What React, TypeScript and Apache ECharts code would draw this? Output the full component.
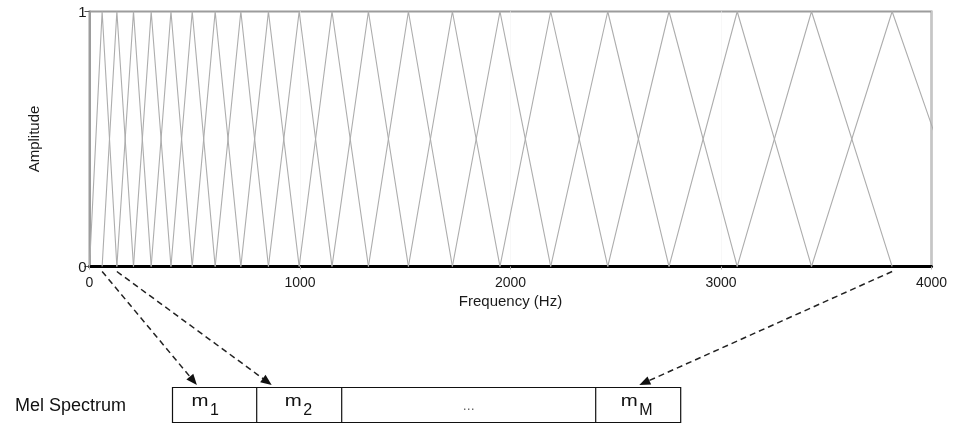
import React, { useEffect, useRef } from "react";
import * as echarts from "echarts";

// Filter band edges / centre frequencies (Hz)
const filterEdgesHz = [0, 60, 130, 209, 293, 387, 488, 597, 719, 850, 996, 1152, 1325, 1515, 1724, 1950, 2191, 2462, 2753, 3077, 3430, 3813, 4234];
const peakAmplitude = 1;
const xRange = [0, 4000];
const xStep = 1000;
const yRange = [0, 1];
const yStep = 1;
const cellMain = ["m", "m", "...", "m"];
const cellSub = ["1", "2", "", "M"];
// filter whose centre feeds the given cell (cell index -> filter index)
const arrowCells = [0, 1, 3];
const arrowFilters = [1, 2, 21];

const FONT = "Liberation Sans, Arial, Helvetica, sans-serif";

export default function App() {
  const ref = useRef<HTMLDivElement>(null);
  useEffect(() => {
    const chart = echarts.init(ref.current!, undefined, { renderer: "svg" });
    const series: any[] = [];
    for (let k = 1; k < filterEdgesHz.length - 1; k++) {
      series.push({
        type: "line",
        data: [
          [filterEdgesHz[k - 1], 0],
          [filterEdgesHz[k], peakAmplitude],
          [filterEdgesHz[k + 1], 0],
        ],
        symbol: "none",
        clip: true,
        silent: true,
        lineStyle: { color: "#adadad", width: 1.1 },
        z: 1,
      });
    }
    chart.setOption({
      animation: false,
      textStyle: { fontFamily: FONT },
      grid: {
        left: 89.5,
        right: 31.5,
        top: 11.5,
        bottom: 157.5,
        show: true,
        borderColor: "#9c9c9c",
        borderWidth: 2,
        backgroundColor: "transparent",
      },
      xAxis: {
        type: "value",
        min: xRange[0],
        max: xRange[1],
        interval: xStep,
        axisLine: { show: true, onZero: false, lineStyle: { color: "#000", width: 3 } },
        axisTick: { show: true, length: 3, lineStyle: { color: "#aaa" } },
        axisLabel: { fontSize: 14, color: "#1a1a1a", margin: 8, fontFamily: FONT, formatter: (v: number) => String(v) },
        splitLine: { show: true, lineStyle: { color: "#f0f0f0", width: 1, type: "dotted" } },
        name: "Frequency (Hz)",
        nameLocation: "middle",
        nameGap: 25,
        nameTextStyle: { fontSize: 15, color: "#1a1a1a", fontFamily: FONT },
      },
      yAxis: {
        type: "value",
        min: yRange[0],
        max: yRange[1],
        interval: yStep,
        axisLine: { show: true, lineStyle: { color: "#9c9c9c", width: 2 } },
        axisTick: { show: true, length: 5, lineStyle: { color: "#555" } },
        axisLabel: { fontSize: 15, color: "#1a1a1a", margin: 3, fontFamily: FONT },
        splitLine: { show: false },
        name: "Amplitude",
        nameLocation: "middle",
        nameGap: 49,
        nameRotate: 90,
        nameTextStyle: { fontSize: 15, color: "#1a1a1a", fontFamily: FONT },
      },
      series,
    });

    // Mel spectrum boxes
    const cellEdges = [172.5, 256.7, 341.7, 595.7, 680.7];
    const boxTop = 387.5;
    const boxH = 35;
    const g: any[] = [];
    g.push({
      type: "text",
      x: 15,
      y: 405,
      style: { text: "Mel Spectrum", fontSize: 18, fill: "#111", fontFamily: FONT, align: "left", verticalAlign: "middle" },
    });
    g.push({
      type: "rect",
      shape: { x: cellEdges[0], y: boxTop, width: cellEdges[4] - cellEdges[0], height: boxH },
      style: { fill: "#fff", stroke: "#111", lineWidth: 1.2 },
    });
    for (let i = 1; i < cellEdges.length - 1; i++) {
      g.push({
        type: "line",
        shape: { x1: cellEdges[i], y1: boxTop, x2: cellEdges[i], y2: boxTop + boxH },
        style: { stroke: "#111", lineWidth: 1.2 },
      });
    }
    const mainOffsets = [19, 28, 0, 25];
    for (let i = 0; i < cellMain.length; i++) {
      const left = cellEdges[i];
      const right = cellEdges[i + 1];
      if (cellSub[i] === "") {
        g.push({
          type: "text",
          x: (left + right) / 2,
          y: 405,
          style: { text: cellMain[i], fontSize: 14, fill: "#666", fontFamily: FONT, align: "center", verticalAlign: "middle" },
        });
        continue;
      }
      const mx = left + mainOffsets[i];
      g.push({
        type: "text",
        x: mx,
        y: 400,
        scaleX: 1.2,
        style: { text: cellMain[i], fontSize: 17, fill: "#111", fontFamily: FONT, align: "left", verticalAlign: "middle" },
      });
      g.push({
        type: "text",
        x: mx + 18.5,
        y: 409.5,
        style: { text: cellSub[i], fontSize: 16, fill: "#111", fontFamily: FONT, align: "left", verticalAlign: "middle" },
      });
    }

    // Dashed arrows from filter centres to the cells
    const tipOffsets = [24.4, 15, 43.6];
    for (let a = 0; a < arrowFilters.length; a++) {
      const p = chart.convertToPixel({ xAxisIndex: 0, yAxisIndex: 0 }, [filterEdgesHz[arrowFilters[a]], 0]) as number[];
      const sx = p[0];
      const sy = p[1] + 5;
      const tx = cellEdges[arrowCells[a]] + tipOffsets[a];
      const ty = boxTop - 2.5;
      const dx = tx - sx;
      const dy = ty - sy;
      const len = Math.sqrt(dx * dx + dy * dy);
      const ux = dx / len;
      const uy = dy / len;
      const headL = 11;
      const headW = 4.5;
      const bx = tx - ux * headL;
      const by = ty - uy * headL;
      g.push({
        type: "line",
        shape: { x1: sx, y1: sy, x2: bx + ux * 2, y2: by + uy * 2 },
        style: { stroke: "#222", lineWidth: 1.5, lineDash: [6, 4] },
      });
      g.push({
        type: "polygon",
        shape: {
          points: [
            [tx, ty],
            [bx - uy * headW, by + ux * headW],
            [bx + uy * headW, by - ux * headW],
          ],
        },
        style: { fill: "#111" },
      });
    }
    chart.setOption({ graphic: g });

    return () => chart.dispose();
  }, []);
  return <div ref={ref} style={{ position: "fixed", left: 0, top: 0, width: 963, height: 424 }} />;
}
